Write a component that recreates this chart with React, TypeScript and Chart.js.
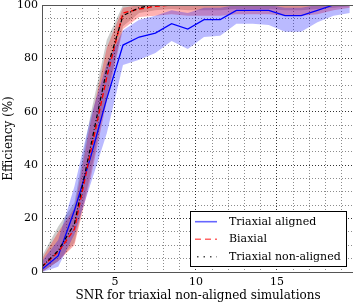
import React, { useEffect, useRef } from "react";
import { Chart, registerables } from "chart.js";

Chart.register(...registerables);

// ---- data ----
const snr = [0.5, 1.5, 2.5, 3.5, 4.5, 5.5, 6.5, 7.5, 8.5, 9.5, 10.5, 11.5, 12.5, 13.5, 14.5, 15.5, 16.5, 17.5, 18.5, 19.5];

const alignedMean = [1, 6, 23, 43, 65, 85, 88, 89.5, 93, 91, 94.5, 94.5, 98, 98, 98, 96, 96, 98, 100, 100];
const alignedLow = [0, 2, 14, 33, 52, 77.5, 79.5, 82, 86.5, 83.5, 88, 88.5, 93, 93, 92.5, 90, 90, 93.5, 96, 97];
const alignedHigh = [4, 12, 32, 58, 78, 90.5, 94.5, 96, 98, 97, 99, 99, 100, 100, 100, 99, 99, 100, 100, 100];

const biaxialMean = [2, 7.5, 16, 45, 73, 97, 98.5, 99.5, 100, 100, 100, 100, 100, 100, 100, 100, 100, 100, 100, 100];
const biaxialLow = [0, 4, 10, 35, 64, 91, 95.5, 96, 96.5, 96, 96, 96, 96.5, 96.5, 96.5, 96, 96, 96.5, 98, 99];
const biaxialHigh = [5, 15, 24, 56, 84, 99, 100, 100, 100, 100, 100, 100, 100, 100, 100, 100, 100, 100, 100, 100];

const nonAlignedMean = [2, 8, 18, 47, 76, 96, 99, 100, 100, 100, 100, 100, 100, 100, 100, 100, 100, 100, 100, 100];
const nonAlignedLow = [0, 4, 11, 37, 66, 92, 97, 98, 98.5, 98, 98, 98, 98.5, 98.5, 98.5, 98, 98, 98.5, 99, 99.5];
const nonAlignedHigh = [6, 17, 26, 59, 87, 100, 100, 100, 100, 100, 100, 100, 100, 100, 100, 100, 100, 100, 100, 100];

const xTickValues = [1, 2, 3, 4, 5, 6, 7, 8, 9, 10, 11, 12, 13, 14, 15, 16, 17, 18, 19];
const xLabelValues = [5, 10, 15];
const yTickValues = [0, 5, 10, 15, 20, 25, 30, 35, 40, 45, 50, 55, 60, 65, 70, 75, 80, 85, 90, 95, 100];
const yLabelValues = [0, 20, 40, 60, 80, 100];

const legendLabels = ["Triaxial aligned", "Biaxial", "Triaxial non-aligned"];
const xTitle = "SNR for triaxial non-aligned simulations";
const yTitle = "Efficiency (%)";

const FONT = "'DejaVu Serif', 'Liberation Serif', serif";

const pts = (ys: number[]) => snr.map((x, i) => ({ x, y: ys[i] }));

const framePlugin = {
  id: "frame",
  afterDatasetsDraw(chart: any) {
    const { ctx, chartArea } = chart;
    const { left, right, top, bottom } = chartArea;
    ctx.save();
    ctx.strokeStyle = "#555";
    ctx.lineWidth = 1;
    ctx.beginPath();
    ctx.moveTo(left + 0.5, bottom);
    ctx.lineTo(left + 0.5, top);
    ctx.moveTo(left, top + 0.5);
    ctx.lineTo(right, top + 0.5);
    ctx.moveTo(left, bottom + 0.5);
    ctx.lineTo(right, bottom + 0.5);
    ctx.stroke();
    ctx.restore();
  },
};

const legendPlugin = {
  id: "boxLegend",
  afterDraw(chart: any) {
    const { ctx } = chart;
    const bx = 190.5, by = 211.5, bw = 156, bh = 55;
    ctx.save();
    ctx.fillStyle = "#fff";
    ctx.fillRect(bx, by, bw, bh);
    ctx.strokeStyle = "#000";
    ctx.lineWidth = 1;
    ctx.strokeRect(bx, by, bw, bh);
    const rows = [221.7, 239.3, 256.7];
    const x0 = 195, x1 = 217;
    ctx.lineWidth = 1.6;
    ctx.setLineDash([]);
    ctx.strokeStyle = "rgba(0,0,255,0.6)";
    ctx.beginPath();
    ctx.moveTo(x0, rows[0]);
    ctx.lineTo(x1, rows[0]);
    ctx.stroke();
    ctx.strokeStyle = "rgba(255,0,0,0.6)";
    ctx.setLineDash([6, 4]);
    ctx.beginPath();
    ctx.moveTo(x0, rows[1]);
    ctx.lineTo(x1, rows[1]);
    ctx.stroke();
    ctx.strokeStyle = "rgba(0,0,0,0.7)";
    ctx.setLineDash([1.5, 5]);
    ctx.beginPath();
    ctx.moveTo(x0 + 2, rows[2]);
    ctx.lineTo(x1, rows[2]);
    ctx.stroke();
    ctx.setLineDash([]);
    ctx.fillStyle = "#000";
    ctx.font = `11px ${FONT}`;
    ctx.textBaseline = "middle";
    ctx.textAlign = "left";
    legendLabels.forEach((t, i) => ctx.fillText(t, 229, rows[i]));
    ctx.restore();
  },
};

export default function App() {
  const ref = useRef<HTMLCanvasElement | null>(null);

  useEffect(() => {
    if (!ref.current) return;
    const lineBase = { pointRadius: 0, tension: 0, fill: false };
    const bandLow = (d: number[]) => ({ data: pts(d), borderWidth: 0, pointRadius: 0, fill: false, borderColor: "transparent" });
    const bandHigh = (d: number[], c: string) => ({ data: pts(d), borderWidth: 0, pointRadius: 0, fill: "-1", backgroundColor: c, borderColor: "transparent" });

    const chart = new Chart(ref.current, {
      type: "line",
      data: {
        datasets: [
          { ...lineBase, label: legendLabels[2], data: pts(nonAlignedMean), borderColor: "#000", borderWidth: 1.2, borderDash: [4, 2, 1, 2] },
          { ...lineBase, label: legendLabels[1], data: pts(biaxialMean), borderColor: "#ff0000", borderWidth: 1.4, borderDash: [5, 3] },
          { ...lineBase, label: legendLabels[0], data: pts(alignedMean), borderColor: "#0000ff", borderWidth: 1.3 },
          bandLow(alignedLow),
          bandHigh(alignedHigh, "rgba(0,0,255,0.27)"),
          bandLow(biaxialLow),
          bandHigh(biaxialHigh, "rgba(255,0,0,0.3)"),
          bandLow(nonAlignedLow),
          bandHigh(nonAlignedHigh, "rgba(0,0,0,0.2)"),
        ] as any,
      },
      options: {
        animation: false,
        responsive: false,
        devicePixelRatio: 1,
        layout: { padding: { left: 0, right: 6, top: 5, bottom: 0 } },
        plugins: {
          legend: { display: false },
          tooltip: { enabled: false },
          filler: { drawTime: "beforeDatasetsDraw" },
        } as any,
        scales: {
          x: {
            type: "linear",
            min: 0.5,
            max: 19.76,
            afterBuildTicks: (s: any) => {
              s.ticks = xTickValues.map((v) => ({ value: v }));
            },
            afterFit: (s: any) => {
              s.height = 33;
              s.paddingLeft = 0;
              s.paddingRight = 0;
            },
            ticks: {
              autoSkip: false,
              maxRotation: 0,
              padding: 4,
              color: "#000",
              font: { family: FONT, size: 11 },
              callback: (v: any) => (xLabelValues.includes(Number(v)) ? String(v) : ""),
            },
            grid: {
              drawTicks: false,
              lineWidth: 1,
              color: (c: any) => (c.tick && xLabelValues.includes(c.tick.value) ? "rgba(0,0,0,0.8)" : "rgba(0,0,0,0.45)"),
            },
            border: { display: false, dash: [1, 2] },
            title: {
              display: true,
              text: xTitle,
              color: "#000",
              font: { family: FONT, size: 12 },
              padding: { top: 0, bottom: 2 },
            },
          },
          y: {
            type: "linear",
            min: 0,
            max: 100,
            afterBuildTicks: (s: any) => {
              s.ticks = yTickValues.map((v) => ({ value: v }));
            },
            afterFit: (s: any) => {
              s.width = 42;
              s.paddingTop = 0;
              s.paddingBottom = 0;
            },
            ticks: {
              autoSkip: false,
              padding: 4,
              color: "#000",
              font: { family: FONT, size: 11 },
              callback: (v: any) => (yLabelValues.includes(Number(v)) ? String(v) : ""),
            },
            grid: {
              drawTicks: false,
              lineWidth: 1,
              color: (c: any) => (c.tick && yLabelValues.includes(c.tick.value) ? "rgba(0,0,0,0.8)" : "rgba(0,0,0,0.45)"),
            },
            border: { display: false, dash: [1, 2] },
            title: {
              display: true,
              text: yTitle,
              color: "#000",
              font: { family: FONT, size: 12 },
              padding: { top: 2, bottom: 0 },
            },
          },
        },
      } as any,
      plugins: [framePlugin, legendPlugin],
    });
    return () => chart.destroy();
  }, []);

  return (
    <div style={{ position: "fixed", left: 0, top: 0, width: 353, height: 305, overflow: "hidden", background: "#fff" }}>
      <canvas ref={ref} width={360} height={305} style={{ display: "block", width: 360, height: 305 }} />
    </div>
  );
}
